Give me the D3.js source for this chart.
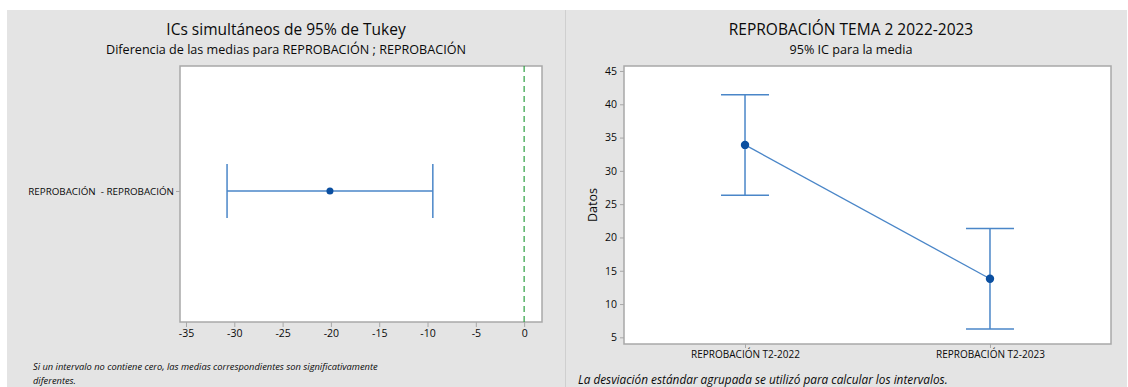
<!DOCTYPE html>
<html>
<head>
<meta charset="utf-8">
<script src="https://cdn.jsdelivr.net/npm/d3@7"></script>
<style>
  html, body { margin: 0; padding: 0; background: #fff; }
  svg { display: block; font-family: "Open Sans", "Noto Sans", sans-serif; }
</style>
</head>
<body>
<svg id="chart" width="1128" height="387"></svg>
<script>
// Tukey simultaneous 95% CI for the difference of means
const tukeyLabels = ["REPROBACIÓN  - REPROBACIÓN"];
const tukeyCenter = [-20.1];
const tukeyLower = [-30.75];
const tukeyUpper = [-9.45];
const tukeyTicks = [-35, -30, -25, -20, -15, -10, -5, 0];

// 95% CI for each group mean
const groups = ["REPROBACIÓN T2-2022", "REPROBACIÓN T2-2023"];
const groupMeans = [33.9, 13.8];
const groupLower = [26.35, 6.25];
const groupUpper = [41.45, 21.35];
const meanTicks = [5, 10, 15, 20, 25, 30, 35, 40, 45];

const svg = d3.select("#chart");
const BG = "#e4e4e4", FRAME = "#a8a8a8", LINE = "#4a86c8", DOT = "#0b4fa0", TXT = "#0a0a0a";

// panel backgrounds
svg.append("rect").attr("x", 7).attr("y", 10).attr("width", 1120).attr("height", 377).attr("fill", BG);
svg.append("line").attr("x1", 565.5).attr("x2", 565.5).attr("y1", 10).attr("y2", 387)
  .attr("stroke", "#cfcfcf").attr("stroke-width", 1);

function titles(cx, t1, t2) {
  svg.append("text").attr("x", cx).attr("y", 35).attr("text-anchor", "middle")
    .attr("font-size", 15.5).attr("fill", TXT).text(t1);
  svg.append("text").attr("x", cx).attr("y", 54).attr("text-anchor", "middle")
    .attr("font-size", 12.6).attr("fill", TXT).text(t2);
}

// ---------- Left: Tukey intervals ----------
{
  const L = { x0: 180, x1: 542, y0: 66, y1: 322 };
  titles(286, "ICs simultáneos de 95% de Tukey", "Diferencia de las medias para REPROBACIÓN ; REPROBACIÓN");

  const x = d3.scaleLinear().domain([-35.62, 1.85]).range([L.x0, L.x1]);
  const y = d3.scalePoint().domain(tukeyLabels).range([L.y0, L.y1 - 6]).padding(0.5);

  svg.append("rect").attr("x", L.x0).attr("y", L.y0).attr("width", L.x1 - L.x0).attr("height", L.y1 - L.y0)
    .attr("fill", "#fff").attr("stroke", FRAME).attr("stroke-width", 1.5);

  const xa = svg.append("g").attr("transform", `translate(0,${L.y1})`)
    .call(d3.axisBottom(x).tickValues(tukeyTicks).tickSize(5).tickPadding(3).tickFormat(d => d3.format("")(d).replace("−", "-")));
  xa.select(".domain").remove();
  xa.selectAll("line").attr("stroke", FRAME);
  xa.selectAll("text").attr("font-size", 10.5).attr("fill", TXT).attr("font-family", "Open Sans, sans-serif");

  const ya = svg.append("g").attr("transform", `translate(${L.x0},0)`)
    .call(d3.axisLeft(y).tickSize(4).tickPadding(2));
  ya.select(".domain").remove();
  ya.selectAll("line").attr("stroke", FRAME);
  ya.selectAll("text").attr("font-size", 9.8).attr("fill", TXT).attr("font-family", "Open Sans, sans-serif").style("white-space", "pre");

  // zero reference
  svg.append("line").attr("x1", x(0)).attr("x2", x(0)).attr("y1", L.y0).attr("y2", L.y1)
    .attr("stroke", "#2ea043").attr("stroke-width", 1.2).attr("stroke-dasharray", "6,4");

  tukeyLabels.forEach((lab, i) => {
    const yy = y(lab);
    const g = svg.append("g").attr("stroke", LINE).attr("stroke-width", 1.5);
    g.append("line").attr("x1", x(tukeyLower[i])).attr("x2", x(tukeyUpper[i])).attr("y1", yy).attr("y2", yy);
    g.append("line").attr("x1", x(tukeyLower[i])).attr("x2", x(tukeyLower[i])).attr("y1", yy - 27).attr("y2", yy + 27);
    g.append("line").attr("x1", x(tukeyUpper[i])).attr("x2", x(tukeyUpper[i])).attr("y1", yy - 27).attr("y2", yy + 27);
    svg.append("circle").attr("cx", x(tukeyCenter[i])).attr("cy", yy).attr("r", 3.5).attr("fill", DOT);
  });

  svg.append("text").attr("x", 33).attr("y", 370).attr("font-size", 9.3).attr("font-style", "italic").attr("fill", TXT)
    .text("Si un intervalo no contiene cero, las medias correspondientes son significativamente");
  svg.append("text").attr("x", 33).attr("y", 384).attr("font-size", 9.3).attr("font-style", "italic").attr("fill", TXT)
    .text("diferentes.");
}

// ---------- Right: interval plot of means ----------
{
  const R = { x0: 624, x1: 1111, y0: 66, y1: 344 };
  titles(851, "REPROBACIÓN TEMA 2 2022-2023", "95% IC para la media");

  const x = d3.scalePoint().domain(groups).range([R.x0, R.x1]).padding(0.494);
  const y = d3.scaleLinear().domain([4.0, 45.75]).range([R.y1, R.y0]);

  svg.append("rect").attr("x", R.x0).attr("y", R.y0).attr("width", R.x1 - R.x0).attr("height", R.y1 - R.y0)
    .attr("fill", "#fff").attr("stroke", FRAME).attr("stroke-width", 1.5);

  const ya = svg.append("g").attr("transform", `translate(${R.x0},0)`)
    .call(d3.axisLeft(y).tickValues(meanTicks).tickSize(4).tickPadding(3));
  ya.select(".domain").remove();
  ya.selectAll("line").attr("stroke", FRAME);
  ya.selectAll("text").attr("font-size", 10.5).attr("fill", TXT).attr("font-family", "Open Sans, sans-serif");

  const xa = svg.append("g").attr("transform", `translate(0,${R.y1})`)
    .call(d3.axisBottom(x).tickSize(4).tickPadding(3));
  xa.select(".domain").remove();
  xa.selectAll("line").attr("stroke", FRAME);
  xa.selectAll("text").attr("font-size", 10).attr("fill", TXT).attr("font-family", "Open Sans, sans-serif");

  svg.append("text").attr("transform", `translate(597,${(R.y0 + R.y1) / 2}) rotate(-90)`)
    .attr("text-anchor", "middle").attr("font-size", 12.5).attr("fill", TXT).text("Datos");

  // connect means
  const pts = groups.map((g, i) => [x(g), y(groupMeans[i])]);
  svg.append("path").attr("d", d3.line()(pts)).attr("fill", "none").attr("stroke", LINE).attr("stroke-width", 1.3);

  groups.forEach((g, i) => {
    const xx = x(g);
    const e = svg.append("g").attr("stroke", LINE).attr("stroke-width", 1.5);
    e.append("line").attr("x1", xx).attr("x2", xx).attr("y1", y(groupLower[i])).attr("y2", y(groupUpper[i]));
    e.append("line").attr("x1", xx - 24).attr("x2", xx + 24).attr("y1", y(groupLower[i])).attr("y2", y(groupLower[i]));
    e.append("line").attr("x1", xx - 24).attr("x2", xx + 24).attr("y1", y(groupUpper[i])).attr("y2", y(groupUpper[i]));
    svg.append("circle").attr("cx", xx).attr("cy", y(groupMeans[i])).attr("r", 4.2).attr("fill", DOT);
  });

  svg.append("text").attr("x", 578).attr("y", 384).attr("font-size", 11.8).attr("font-style", "italic").attr("fill", TXT)
    .text("La desviación estándar agrupada se utilizó para calcular los intervalos.");
}
</script>
</body>
</html>
